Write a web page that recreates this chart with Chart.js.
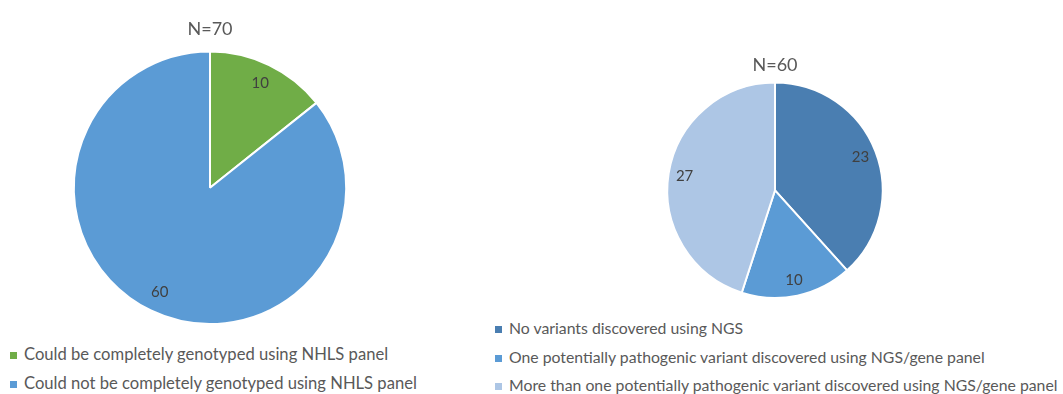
<!DOCTYPE html>
<html>
<head>
<meta charset="utf-8">
<script src="https://cdn.jsdelivr.net/npm/chart.js@4.4.1/dist/chart.umd.min.js"></script>
<style>
  html, body { margin: 0; padding: 0; background: #fff; overflow: hidden; }
  body { width: 1063px; height: 394px; position: relative; font-family: Lato, 'Open Sans', sans-serif; }
  .pie { position: absolute; }
  .legend { position: absolute; color: #595959; white-space: nowrap; }
  #legend-genotyped { font-size: 16.6px; }
  #legend-variants { font-size: 15.8px; }
  .legend .item { position: absolute; left: 0; height: 20px; line-height: 20px; }
  .legend .swatch { display: inline-block; width: 7px; height: 7px; margin-right: 7px; vertical-align: 1px; }
</style>
</head>
<body>
<div class="pie" style="left:0;top:0;width:420px;height:330px"><canvas id="chart-genotyped"></canvas></div>
<div class="pie" style="left:565px;top:0;width:420px;height:310px"><canvas id="chart-variants"></canvas></div>
<div class="legend" id="legend-genotyped" style="left:10px;top:0"></div>
<div class="legend" id="legend-variants" style="left:495px;top:0"></div>

<script>
/* ---------- data ---------- */
const genotypedLabels = ['Could be completely genotyped using NHLS panel', 'Could not be completely genotyped using NHLS panel'];
const genotypedValues = [10, 60];
const genotypedColors = ['#70AD47', '#5B9BD5'];
const genotypedTitle = 'N=70';

const variantLabels = ['No variants discovered using NGS', 'One potentially pathogenic variant discovered using NGS/gene panel', 'More than one potentially pathogenic variant discovered using NGS/gene panel'];
const variantValues = [23, 10, 27];
const variantColors = ['#4A7EB1', '#5B9BD5', '#ADC6E5'];
const variantTitle = 'N=60';

const fontFamily = "Lato, 'Open Sans', sans-serif";

// writes each slice value inside its arc
const sliceValues = {
  id: 'sliceValues',
  afterDatasetsDraw(chart) {
    const { ctx } = chart;
    const meta = chart.getDatasetMeta(0);
    const values = chart.data.datasets[0].data;
    ctx.save();
    ctx.fillStyle = '#404040';
    ctx.font = `15px ${fontFamily}`;
    ctx.textAlign = 'center';
    ctx.textBaseline = 'middle';
    meta.data.forEach((arc, i) => {
      const mid = (arc.startAngle + arc.endAngle) / 2;
      const r = arc.outerRadius * 0.85;
      ctx.fillText(String(values[i]), arc.x + Math.cos(mid) * r, arc.y + Math.sin(mid) * r);
    });
    ctx.restore();
  }
};

function makePie(canvasId, labels, values, colors, title, titlePad, layoutPad) {
  return new Chart(document.getElementById(canvasId), {
    type: 'pie',
    data: {
      labels: labels,
      datasets: [{ data: values, backgroundColor: colors, borderColor: '#ffffff', borderWidth: 2 }]
    },
    options: {
      responsive: true,
      maintainAspectRatio: false,
      animation: false,
      layout: { padding: layoutPad },
      plugins: {
        legend: { display: false },
        tooltip: { enabled: false },
        title: { display: true, text: title, color: '#595959', font: { size: 18, family: fontFamily, weight: 'normal' }, padding: titlePad }
      }
    },
    plugins: [sliceValues]
  });
}

function makeLegend(elId, labels, colors, rows) {
  const box = document.getElementById(elId);
  labels.forEach((label, i) => {
    const item = document.createElement('div');
    item.className = 'item';
    item.style.top = (rows[i] - 10) + 'px';
    item.innerHTML = `<span class="swatch" style="background:${colors[i]}"></span>${label}`;
    box.appendChild(item);
  });
}

makePie('chart-genotyped', genotypedLabels, genotypedValues, genotypedColors, genotypedTitle,
  { top: 7, bottom: 11 }, { top: 11, bottom: 5 });
makePie('chart-variants', variantLabels, variantValues, variantColors, variantTitle,
  { top: 44, bottom: 6 }, { top: 10, bottom: 11 });

makeLegend('legend-genotyped', genotypedLabels, genotypedColors, [354, 383]);
makeLegend('legend-variants', variantLabels, variantColors, [328, 357, 385]);
</script>
</body>
</html>
